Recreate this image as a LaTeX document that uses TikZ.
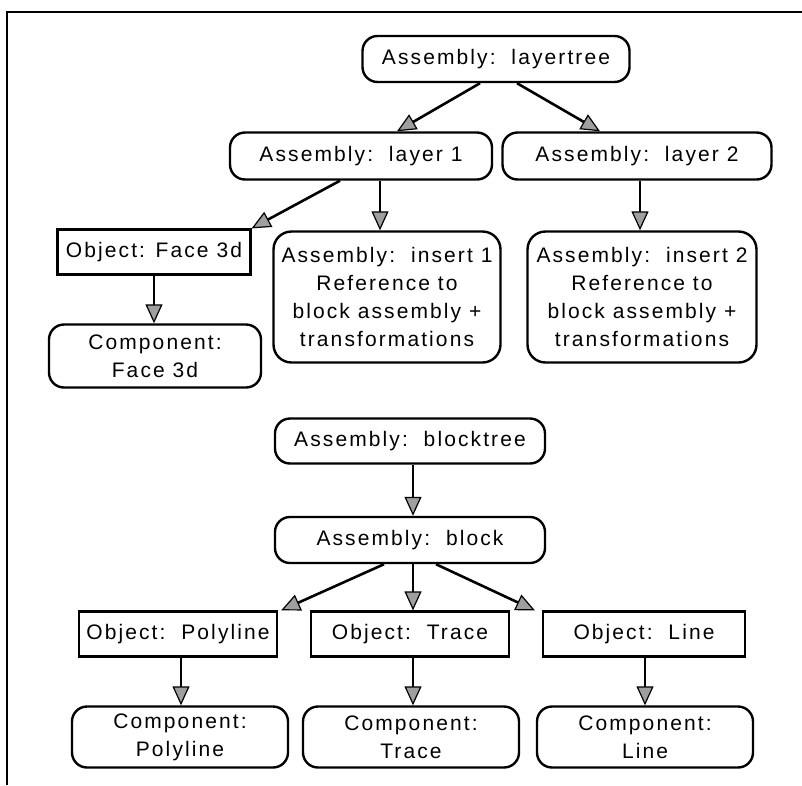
\documentclass[tikz,border=0pt]{standalone}
\usepackage{fontspec}
\setmainfont[LetterSpace=10]{Liberation Sans}
\usetikzlibrary{arrows.meta,calc}
\begin{document}
\begin{tikzpicture}[x=1pt,y=-1pt,
  every node/.style={font=\fontsize{21}{28}\selectfont, align=center, inner sep=0pt},
  rbox/.style={draw, line width=2.4pt, rounded corners=15pt},
  sbox/.style={draw, line width=2.2pt},
  conn/.style={line width=2.6pt, -{Triangle[length=19pt,width=17pt,line width=1.2pt,fill=gray!75]}}]
\useasboundingbox (0,0) rectangle (802,785);
\draw[line width=1.8pt] (7,785) -- (7,12) -- (802,12);
% top tree
\node[rbox, minimum width=267pt, minimum height=46pt] (lt) at (496,59) {Assembly:\ \ layertree};
\node[rbox, minimum width=262pt, minimum height=47pt] (l1) at (361,156) {Assembly:\ \ layer 1};
\node[rbox, minimum width=269pt, minimum height=47pt] (l2) at (637,156) {Assembly:\ \ layer 2};
\node[sbox, minimum width=193pt, minimum height=45pt] (f3o) at (154,252) {Object: Face 3d};
\node[rbox, rounded corners=18pt, minimum width=227pt, minimum height=131pt] (i1) at (387,297) {Assembly:\ \ insert 1\\Reference to\\block assembly +\\transformations};
\node[rbox, rounded corners=18pt, minimum width=229pt, minimum height=131pt] (i2) at (642,297) {Assembly:\ \ insert 2\\Reference to\\block assembly +\\transformations};
\node[rbox, minimum width=212pt, minimum height=63pt] (f3c) at (155,356) {Component:\\Face 3d};
% bottom tree
\node[rbox, minimum width=270pt, minimum height=45pt] (bt) at (410,441) {Assembly:\ \ blocktree};
\node[rbox, minimum width=270pt, minimum height=46pt] (bl) at (410,540) {Assembly:\ \ block};
\node[sbox, minimum width=198pt, minimum height=45pt] (po) at (178,634) {Object:\ \ Polyline};
\node[sbox, minimum width=198pt, minimum height=45pt] (tro) at (410,634) {Object:\ \ Trace};
\node[sbox, minimum width=202pt, minimum height=45pt] (lio) at (644,634) {Object:\ \ Line};
\node[rbox, minimum width=216pt, minimum height=61pt] (pc) at (180,737) {Component:\\Polyline};
\node[rbox, minimum width=216pt, minimum height=61pt] (tc) at (411,737) {Component:\\Trace};
\node[rbox, minimum width=216pt, minimum height=61pt] (lc) at (645,737) {Component:\\Line};
% connectors
\draw[conn] ($(lt.south)+(-16,0)$) -- ($(l1.north)+(36,0)$);
\draw[conn] ($(lt.south)+(21,0)$) -- ($(l2.north)+(-37,0)$);
\draw[conn] ($(l1.south)+(-21,0)$) -- (f3o.north east);
\coordinate (a1) at ($(l1.south)+(19,0)$);
\draw[conn] (a1) -- (a1 |- i1.north);
\coordinate (a2) at ($(l2.south)+(3,0)$);
\draw[conn] (a2) -- (a2 |- i2.north);
\draw[conn] (f3o.south) -- (f3o.south |- f3c.north);
\coordinate (b1) at ($(bt.south)+(3,0)$);
\draw[conn] (b1) -- (b1 |- bl.north);
\draw[conn] ($(bl.south)+(-26,0)$) -- ($(po.north east)+(3,0)$);
\coordinate (b2) at ($(bl.south)+(3,0)$);
\draw[conn] (b2) -- (b2 |- tro.north);
\draw[conn] ($(bl.south)+(26,0)$) -- ($(lio.north west)+(-7,0)$);
\coordinate (b3) at ($(po.south)+(3,0)$);
\draw[conn] (b3) -- (b3 |- pc.north);
\coordinate (b4) at ($(tro.south)+(3,0)$);
\draw[conn] (b4) -- (b4 |- tc.north);
\coordinate (b5) at ($(lio.south)+(1,0)$);
\draw[conn] (b5) -- (b5 |- lc.north);
\end{tikzpicture}
\end{document}
